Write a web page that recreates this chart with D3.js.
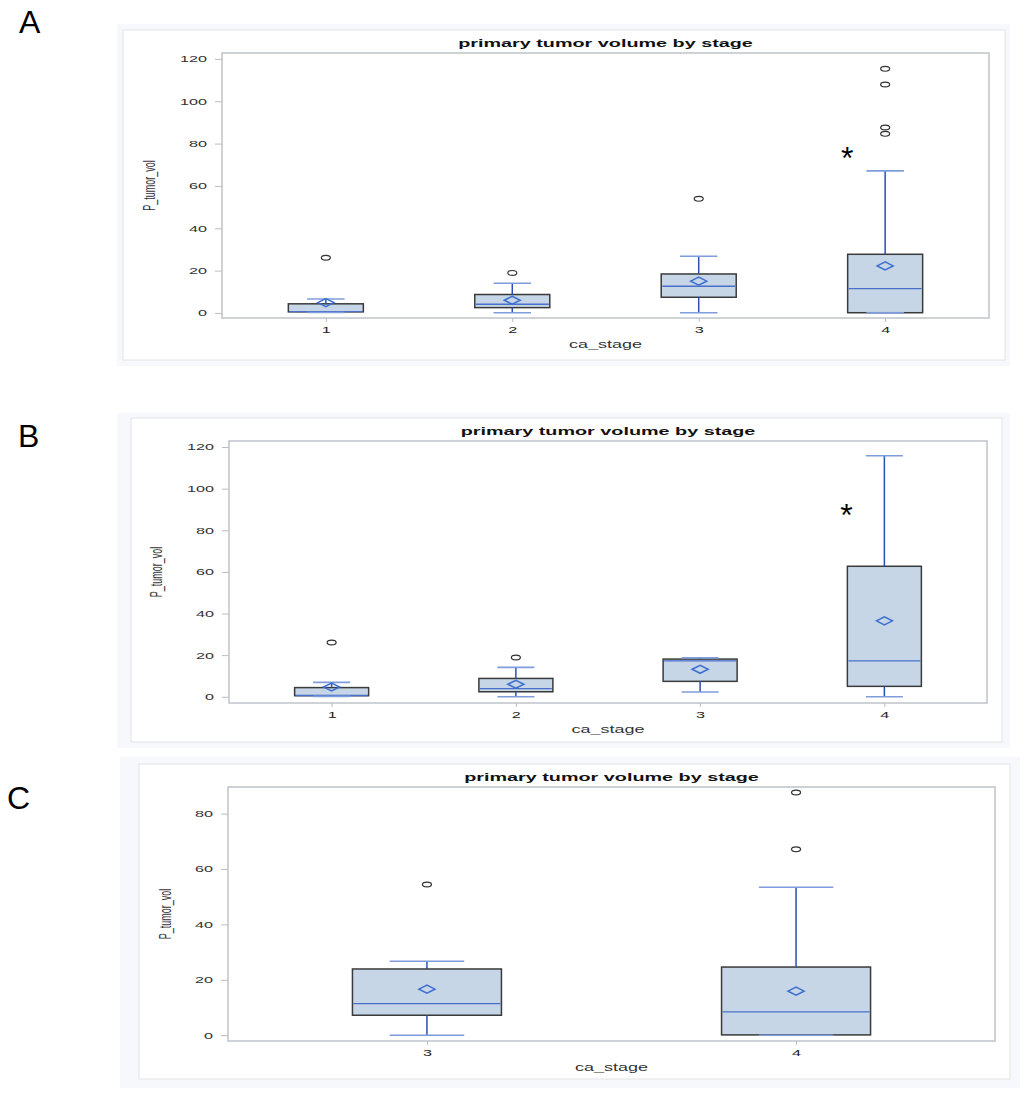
<!DOCTYPE html>
<html>
<head>
<meta charset="utf-8">
<script src="https://cdn.jsdelivr.net/npm/d3@7"></script>
<style>
  body { margin: 0; background: #ffffff; }
  svg { display: block; font-family: "Liberation Sans", Arial, sans-serif; }
</style>
</head>
<body>
<svg id="chart" width="1024" height="1098"></svg>
<script>
// values (P_tumor_vol by ca_stage)
const stagesAB = ["1", "2", "3", "4"];
const stagesC = ["3", "4"];
const ticksAB = [0, 20, 40, 60, 80, 100, 120];
const ticksC = [0, 20, 40, 60, 80];

// panel A
const minA = [0.2, 0.1, 0.1, 0];
const q1A = [0.5, 2.5, 7.4, 0.1];
const medA = [0.6, 4.1, 12.6, 11.5];
const q3A = [4.3, 8.7, 18.4, 27.7];
const maxA = [6.6, 14.0, 26.8, 67.1];
const meanA = [4.9, 6.0, 15.0, 22.2];
const outA = [[26.1], [18.9], [53.9], [84.6, 87.6, 107.9, 115.3]];
const starA = 77;

// panel B
const minB = [0.2, 0, 2.3, 0];
const q1B = [0.5, 2.4, 7.4, 5.0];
const medB = [0.6, 3.9, 17.2, 17.2];
const q3B = [4.4, 8.8, 18.1, 62.7];
const maxB = [6.9, 14.1, 18.7, 115.8];
const meanB = [4.7, 6.0, 13.2, 36.5];
const outB = [[26.1], [18.9], [], []];
const starB = 91;

// panel C
const minC = [0, 0];
const q1C = [7.2, 0.1];
const medC = [11.4, 8.4];
const q3C = [23.9, 24.6];
const maxC = [26.7, 53.4];
const meanC = [16.6, 15.9];
const outC = [[54.4], [67.1, 87.6]];

const SX = 1.8; // the source picture is stretched sideways

const panels = [
    {
        letter: "A", letterPos: [19, 33],
        cats: stagesAB, min: minA, q1: q1A, med: medA, q3: q3A, max: maxA, mean: meanA, out: outA, star: starA,
        outer: [117, 24, 893, 342], frame: [123, 30, 882, 330], plot: [222, 53, 767, 265],
        yDomain: [-2.4, 122.8], ticks: ticksAB, pad: 0.557, boxW: 75
    },
    {
        letter: "B", letterPos: [18, 447],
        cats: stagesAB, min: minB, q1: q1B, med: medB, q3: q3B, max: maxB, mean: meanB, out: outB, star: starB,
        outer: [117, 413, 893, 335], frame: [131, 418, 871, 324], plot: [229, 441, 758, 262],
        yDomain: [-3.0, 122.9], ticks: ticksAB, pad: 0.557, boxW: 74
    },
    {
        letter: "C", letterPos: [7, 809],
        cats: stagesC, min: minC, q1: q1C, med: medC, q3: q3C, max: maxC, mean: meanC, out: outC, star: null,
        outer: [120, 757, 900, 331], frame: [139, 764, 871, 315], plot: [228, 787, 767, 254],
        yDomain: [-2.1, 89.6], ticks: ticksC, pad: 0.539, boxW: 149
    }
];

const svg = d3.select("#chart");

function drawPanel(p) {
    const [px, py, pw, ph] = p.plot;

    svg.append("rect")
        .attr("x", p.outer[0]).attr("y", p.outer[1])
        .attr("width", p.outer[2]).attr("height", p.outer[3])
        .attr("fill", "#f7f8fb");
    svg.append("rect")
        .attr("x", p.frame[0]).attr("y", p.frame[1])
        .attr("width", p.frame[2]).attr("height", p.frame[3])
        .attr("fill", "#ffffff")
        .attr("stroke", "#e1e4e9");

    svg.append("text")
        .attr("x", p.letterPos[0]).attr("y", p.letterPos[1])
        .attr("font-size", 32)
        .attr("fill", "#000")
        .text(p.letter);

    const x = d3.scalePoint()
        .domain(p.cats)
        .range([px, px + pw])
        .padding(p.pad);

    const y = d3.scaleLinear()
        .domain(p.yDomain)
        .range([py + ph, py]);

    // title
    svg.append("text")
        .attr("transform", `translate(${px + pw / 2},${py - 6}) scale(${SX},1)`)
        .attr("text-anchor", "middle")
        .attr("font-size", 11)
        .attr("font-weight", "bold")
        .attr("fill", "#111")
        .text("primary tumor volume by stage");

    // y axis
    const yAxis = svg.append("g")
        .attr("transform", `translate(${px},0)`)
        .call(d3.axisLeft(y).tickValues(p.ticks).tickSize(7).tickSizeOuter(0));
    yAxis.select(".domain").remove();
    yAxis.selectAll("line").attr("stroke", "#b9bdc4");
    yAxis.selectAll("text")
        .attr("x", -15 / SX)
        .attr("transform", `scale(${SX},1)`)
        .attr("font-size", 9)
        .attr("font-family", "Liberation Sans, Arial, sans-serif")
        .attr("fill", "#333");

    // x axis
    const xAxis = svg.append("g")
        .attr("transform", `translate(0,${py + ph})`)
        .call(d3.axisBottom(x).tickSize(4).tickPadding(5).tickSizeOuter(0));
    xAxis.select(".domain").remove();
    xAxis.selectAll("line").attr("stroke", "#b9bdc4");
    xAxis.selectAll("text")
        .attr("transform", `scale(${SX},1)`)
        .attr("font-size", 9)
        .attr("font-family", "Liberation Sans, Arial, sans-serif")
        .attr("fill", "#222");

    // plot frame
    svg.append("rect")
        .attr("x", px).attr("y", py)
        .attr("width", pw).attr("height", ph)
        .attr("fill", "none")
        .attr("stroke", "#bfc3ca")
        .attr("stroke-width", 1.5);

    // axis labels
    svg.append("text")
        .attr("transform", `translate(${px + pw / 2},${py + ph + 30}) scale(${SX},1)`)
        .attr("text-anchor", "middle")
        .attr("font-size", 10)
        .attr("fill", "#333")
        .text("ca_stage");

    const yLabX = p.letter === "C" ? px - 63 : px - 73;
    svg.append("text")
        .attr("transform", `translate(${yLabX},${py + ph / 2}) rotate(-90) scale(1,${SX})`)
        .attr("text-anchor", "middle")
        .attr("dy", "0.35em")
        .attr("font-size", 9)
        .attr("fill", "#333")
        .text("P_tumor_vol");

    const rows = p.cats.map((c, i) => ({
        cat: c, min: p.min[i], q1: p.q1[i], med: p.med[i],
        q3: p.q3[i], max: p.max[i], mean: p.mean[i], out: p.out[i]
    }));
    const bw = p.boxW;

    const g = svg.append("g");

    // boxes
    g.selectAll(".box")
        .data(rows)
        .join("rect")
        .attr("class", "box")
        .attr("x", d => x(d.cat) - bw / 2)
        .attr("width", bw)
        .attr("y", d => y(d.q3))
        .attr("height", d => y(d.q1) - y(d.q3))
        .attr("fill", "#c6d6e7")
        .attr("stroke", "#3a3a3a")
        .attr("stroke-width", 1.5);

    // medians
    g.selectAll(".median")
        .data(rows)
        .join("line")
        .attr("class", "median")
        .attr("x1", d => x(d.cat) - bw / 2 + 1)
        .attr("x2", d => x(d.cat) + bw / 2 - 1)
        .attr("y1", d => y(d.med))
        .attr("y2", d => y(d.med))
        .attr("stroke", "#4a6fc8")
        .attr("stroke-width", 1.3);

    // whiskers
    const whiskers = [];
    rows.forEach(d => {
        whiskers.push({ cat: d.cat, from: d.q3, to: d.max });
        whiskers.push({ cat: d.cat, from: d.q1, to: d.min });
    });
    g.selectAll(".whisker")
        .data(whiskers)
        .join("line")
        .attr("class", "whisker")
        .attr("x1", d => x(d.cat))
        .attr("x2", d => x(d.cat))
        .attr("y1", d => y(d.from))
        .attr("y2", d => y(d.to))
        .attr("stroke", "#2a4fb5")
        .attr("stroke-width", 1.5);

    g.selectAll(".cap")
        .data(whiskers)
        .join("line")
        .attr("class", "cap")
        .attr("x1", d => x(d.cat) - bw / 4)
        .attr("x2", d => x(d.cat) + bw / 4)
        .attr("y1", d => y(d.to))
        .attr("y2", d => y(d.to))
        .attr("stroke", "#7f9cdc")
        .attr("stroke-width", 1.6);

    // means
    const diamond = d3.line();
    g.selectAll(".mean")
        .data(rows)
        .join("path")
        .attr("class", "mean")
        .attr("d", d => {
            const cx = x(d.cat), cy = y(d.mean);
            return diamond([[cx - 8, cy], [cx, cy - 4], [cx + 8, cy], [cx, cy + 4]]) + "Z";
        })
        .attr("fill", "none")
        .attr("stroke", "#3d6fd0")
        .attr("stroke-width", 1.5);

    // outliers
    const outs = [];
    rows.forEach(d => d.out.forEach(v => outs.push({ cat: d.cat, v: v })));
    g.selectAll(".outlier")
        .data(outs)
        .join("ellipse")
        .attr("class", "outlier")
        .attr("cx", d => x(d.cat))
        .attr("cy", d => y(d.v))
        .attr("rx", 4.5)
        .attr("ry", 2.4)
        .attr("fill", "none")
        .attr("stroke", "#333")
        .attr("stroke-width", 1.2);

    // significance mark
    if (p.star !== null) {
        const last = p.cats[p.cats.length - 1];
        svg.append("text")
            .attr("x", x(last) - 38)
            .attr("y", y(p.star) + 19)
            .attr("text-anchor", "middle")
            .attr("font-size", 32)
            .attr("fill", "#000")
            .text("*");
    }
}

panels.forEach(drawPanel);
</script>
</body>
</html>
